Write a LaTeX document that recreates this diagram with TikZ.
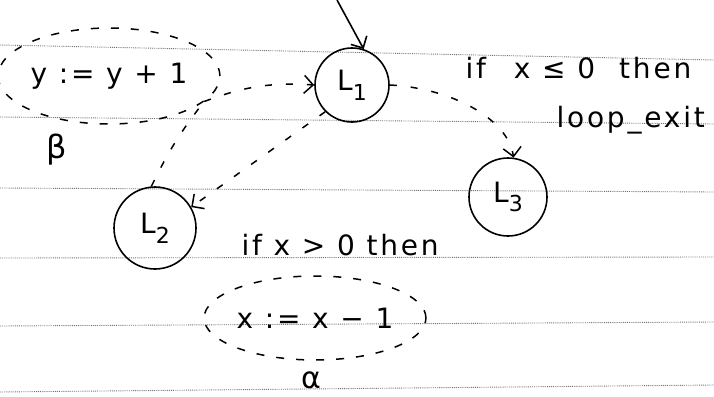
\documentclass[tikz,border=0pt]{standalone}
\usepackage{fontspec}
\setmainfont{DejaVu Sans}[LetterSpace=10]
\usetikzlibrary{shapes.geometric,arrows.meta}
\newcommand\lab[1]{L\raisebox{-0.35em}{\fontsize{22}{22}\selectfont#1}}

\begin{document}
\begin{tikzpicture}[x=1pt,y=-1pt,font=\fontsize{28}{32}\selectfont,
  loc/.style={circle,draw,line width=1.6pt,minimum size=78pt,inner sep=0pt},
  blk/.style={ellipse,draw,line width=1.5pt,dash pattern=on 8pt off 12pt,inner sep=0pt},
  arr/.style={-{Straight Barb[length=9pt,width=18pt]},line width=1.5pt,dash pattern=on 7pt off 14pt},
  dsh/.style={line width=1.5pt,dash pattern=on 7pt off 14pt},
  rule/.style={densely dotted,black!55,line width=0.9pt}]
\useasboundingbox (0,0) rectangle (714,396);
% ruled paper
\foreach \ya/\yb in {45/60,117/124,188/192,258/257,326/322,392/385}
  \draw[rule] (0,\ya) -- (714,\yb);

\node[loc,minimum size=74pt] (l1) at (352,85) {\lab{1}};
\node[loc,minimum size=82pt] (l2) at (155,228) {\lab{2}};
\node[loc] (l3) at (508,197) {\lab{3}};

\node[blk,minimum width=202pt,minimum height=96pt] (beta) at (109,76) {y := y + 1};
\node[blk,minimum width=212pt,minimum height=84pt] (alpha) at (315,318) {x := x − 1};
\node[font=\fontsize{32}{32}\selectfont] (betalbl) at (57,150) {β};
\node[font=\fontsize{30}{30}\selectfont,inner sep=1pt] (alphalbl) at (311,380) {α};

\node[anchor=west] (g1) at (462,68) {if\hspace{28pt}x ≤ 0\hspace{24pt}then};
\node[anchor=west] (ex) at (553,120) {loop\_exit};
\node[anchor=west] (g2) at (238,245) {if x > 0 then};

\coordinate (in) at (337,0);
\draw[-{Straight Barb[length=9pt,width=18pt]},line width=1.6pt] (in) -- (l1.72);
\draw[arr] (beta.-15) to[bend left=12] (l1.west);
\draw[arr] (l1.225) -- (l2.30);
\draw[dsh] (l2.95) to[bend left=6] (beta.-15);
\draw[arr] (l1.east) .. controls (450,88) and (508,118) .. (l3.82);
\end{tikzpicture}
\end{document}
